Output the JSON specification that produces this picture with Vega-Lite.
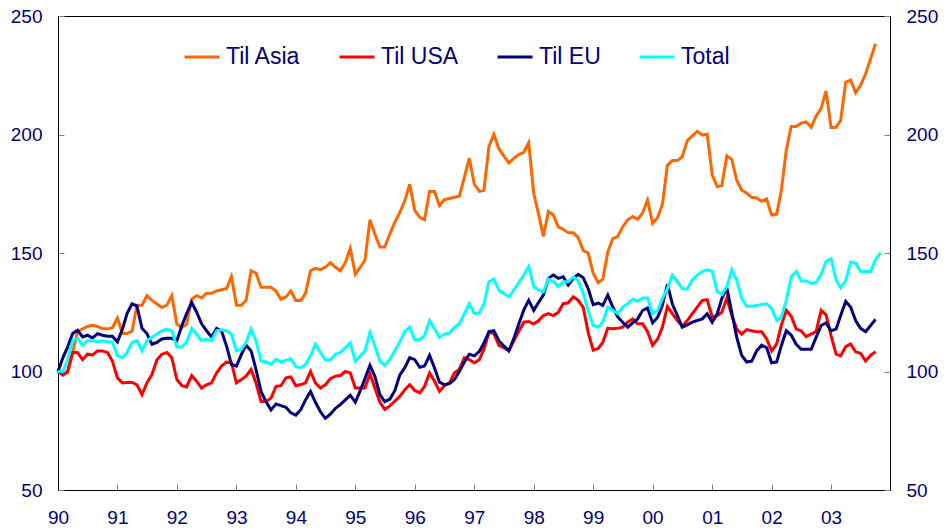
{
  "$schema": "https://vega.github.io/schema/vega-lite/v6.json",
  "width": 832,
  "height": 474,
  "autosize": {"type": "none"},
  "padding": {"left": 58, "top": 16, "right": 57, "bottom": 42},
  "background": "white",
  "config": {
    "font": "Liberation Sans",
    "view": {"stroke": "black", "strokeWidth": 1},
    "axis": {
      "grid": false,
      "title": null,
      "domainColor": "black",
      "domainWidth": 1,
      "tickColor": "#808080",
      "tickWidth": 1,
      "tickSize": -6,
      "labelFont": "Liberation Sans",
      "labelFontSize": 19,
      "labelColor": "#000080",
      "labelOverlap": false,
      "labelFlush": false
    }
  },
  "data": {
    "values": [
      {"d": "1990-01-01", "Til Asia": 100, "Til USA": 100, "Til EU": 100, "Total": 100},
      {"d": "1990-02-01", "Til Asia": 99, "Til USA": 98.5, "Til EU": 106, "Total": 100},
      {"d": "1990-03-01", "Til Asia": 99.5, "Til USA": 100, "Til EU": 110.3, "Total": 105},
      {"d": "1990-04-01", "Til Asia": 108, "Til USA": 108, "Til EU": 116, "Total": 113},
      {"d": "1990-05-01", "Til Asia": 117, "Til USA": 108, "Til EU": 117.4, "Total": 114},
      {"d": "1990-06-01", "Til Asia": 118, "Til USA": 105, "Til EU": 114.6, "Total": 111},
      {"d": "1990-07-01", "Til Asia": 119, "Til USA": 107.3, "Til EU": 115.3, "Total": 113},
      {"d": "1990-08-01", "Til Asia": 119.5, "Til USA": 107, "Til EU": 114.2, "Total": 113},
      {"d": "1990-09-01", "Til Asia": 119, "Til USA": 108.7, "Til EU": 116, "Total": 112.5},
      {"d": "1990-10-01", "Til Asia": 118, "Til USA": 108.7, "Til EU": 115.3, "Total": 113},
      {"d": "1990-11-01", "Til Asia": 118, "Til USA": 108, "Til EU": 114.9, "Total": 112.5},
      {"d": "1990-12-01", "Til Asia": 118.5, "Til USA": 104.4, "Til EU": 114.9, "Total": 112.5},
      {"d": "1991-01-01", "Til Asia": 122.5, "Til USA": 97.3, "Til EU": 112.5, "Total": 106.6},
      {"d": "1991-02-01", "Til Asia": 116, "Til USA": 95.2, "Til EU": 117.9, "Total": 105.8},
      {"d": "1991-03-01", "Til Asia": 116, "Til USA": 95.4, "Til EU": 124.4, "Total": 108},
      {"d": "1991-04-01", "Til Asia": 117, "Til USA": 95.4, "Til EU": 128.6, "Total": 112.3},
      {"d": "1991-05-01", "Til Asia": 128, "Til USA": 94.4, "Til EU": 127.6, "Total": 113},
      {"d": "1991-06-01", "Til Asia": 128, "Til USA": 90.2, "Til EU": 118.2, "Total": 108.7},
      {"d": "1991-07-01", "Til Asia": 132, "Til USA": 95.2, "Til EU": 116, "Total": 113},
      {"d": "1991-08-01", "Til Asia": 130, "Til USA": 98.7, "Til EU": 111.5, "Total": 114.4},
      {"d": "1991-09-01", "Til Asia": 128.5, "Til USA": 105, "Til EU": 112.3, "Total": 115.8},
      {"d": "1991-10-01", "Til Asia": 127, "Til USA": 107.3, "Til EU": 113.7, "Total": 117.2},
      {"d": "1991-11-01", "Til Asia": 128, "Til USA": 108, "Til EU": 114, "Total": 117.9},
      {"d": "1991-12-01", "Til Asia": 132, "Til USA": 105.8, "Til EU": 114, "Total": 117.2},
      {"d": "1992-01-01", "Til Asia": 120, "Til USA": 96.6, "Til EU": 113, "Total": 110.3},
      {"d": "1992-02-01", "Til Asia": 118.5, "Til USA": 94, "Til EU": 119.4, "Total": 110.3},
      {"d": "1992-03-01", "Til Asia": 120, "Til USA": 93.5, "Til EU": 124.4, "Total": 112.3},
      {"d": "1992-04-01", "Til Asia": 130.5, "Til USA": 98.3, "Til EU": 129.1, "Total": 118.2},
      {"d": "1992-05-01", "Til Asia": 132, "Til USA": 95.9, "Til EU": 125.1, "Total": 115.8},
      {"d": "1992-06-01", "Til Asia": 131, "Til USA": 93, "Til EU": 120.1, "Total": 113},
      {"d": "1992-07-01", "Til Asia": 133, "Til USA": 94.4, "Til EU": 117.2, "Total": 113.7},
      {"d": "1992-08-01", "Til Asia": 133, "Til USA": 95.2, "Til EU": 114.6, "Total": 113},
      {"d": "1992-09-01", "Til Asia": 134, "Til USA": 99.4, "Til EU": 118.2, "Total": 117.2},
      {"d": "1992-10-01", "Til Asia": 134.5, "Til USA": 102.3, "Til EU": 117.2, "Total": 117.6},
      {"d": "1992-11-01", "Til Asia": 135, "Til USA": 104, "Til EU": 110.8, "Total": 117.2},
      {"d": "1992-12-01", "Til Asia": 140, "Til USA": 103.7, "Til EU": 103, "Total": 115.8},
      {"d": "1993-01-01", "Til Asia": 128, "Til USA": 95.2, "Til EU": 102.3, "Total": 108.7},
      {"d": "1993-02-01", "Til Asia": 128, "Til USA": 96.6, "Til EU": 107.3, "Total": 109.4},
      {"d": "1993-03-01", "Til Asia": 130, "Til USA": 98, "Til EU": 111.1, "Total": 112.3},
      {"d": "1993-04-01", "Til Asia": 142.5, "Til USA": 100.9, "Til EU": 108.7, "Total": 117.9},
      {"d": "1993-05-01", "Til Asia": 141.5, "Til USA": 95.2, "Til EU": 100.9, "Total": 113},
      {"d": "1993-06-01", "Til Asia": 135.5, "Til USA": 87.3, "Til EU": 91.6, "Total": 104.4},
      {"d": "1993-07-01", "Til Asia": 135.5, "Til USA": 87.3, "Til EU": 87.3, "Total": 104},
      {"d": "1993-08-01", "Til Asia": 135.5, "Til USA": 88.7, "Til EU": 83.8, "Total": 103},
      {"d": "1993-09-01", "Til Asia": 134, "Til USA": 93.7, "Til EU": 86.3, "Total": 105.1},
      {"d": "1993-10-01", "Til Asia": 130.5, "Til USA": 94, "Til EU": 85.6, "Total": 104},
      {"d": "1993-11-01", "Til Asia": 131.5, "Til USA": 97.3, "Til EU": 84.9, "Total": 104.8},
      {"d": "1993-12-01", "Til Asia": 134, "Til USA": 97.7, "Til EU": 82.6, "Total": 105.4},
      {"d": "1994-01-01", "Til Asia": 130, "Til USA": 94, "Til EU": 81.6, "Total": 102},
      {"d": "1994-02-01", "Til Asia": 130, "Til USA": 94.5, "Til EU": 84, "Total": 101.6},
      {"d": "1994-03-01", "Til Asia": 133, "Til USA": 95.2, "Til EU": 88, "Total": 103},
      {"d": "1994-04-01", "Til Asia": 142.5, "Til USA": 100, "Til EU": 91.6, "Total": 106.6},
      {"d": "1994-05-01", "Til Asia": 143.5, "Til USA": 95.2, "Til EU": 87, "Total": 111.5},
      {"d": "1994-06-01", "Til Asia": 143, "Til USA": 93, "Til EU": 83, "Total": 108},
      {"d": "1994-07-01", "Til Asia": 144, "Til USA": 94.4, "Til EU": 80.2, "Total": 104.8},
      {"d": "1994-08-01", "Til Asia": 146, "Til USA": 97, "Til EU": 82, "Total": 104.8},
      {"d": "1994-09-01", "Til Asia": 144, "Til USA": 98, "Til EU": 84.5, "Total": 107.3},
      {"d": "1994-10-01", "Til Asia": 142.5, "Til USA": 98.3, "Til EU": 86, "Total": 108},
      {"d": "1994-11-01", "Til Asia": 146, "Til USA": 100, "Til EU": 88, "Total": 110.1},
      {"d": "1994-12-01", "Til Asia": 152, "Til USA": 99.4, "Til EU": 90, "Total": 112},
      {"d": "1995-01-01", "Til Asia": 141, "Til USA": 93, "Til EU": 87, "Total": 104.4},
      {"d": "1995-02-01", "Til Asia": 144, "Til USA": 93, "Til EU": 92, "Total": 106.6},
      {"d": "1995-03-01", "Til Asia": 147, "Til USA": 93, "Til EU": 97, "Total": 108.7},
      {"d": "1995-04-01", "Til Asia": 164, "Til USA": 99, "Til EU": 102.6, "Total": 116.5},
      {"d": "1995-05-01", "Til Asia": 158, "Til USA": 93, "Til EU": 98, "Total": 110.8},
      {"d": "1995-06-01", "Til Asia": 152.5, "Til USA": 87, "Til EU": 90.2, "Total": 104.4},
      {"d": "1995-07-01", "Til Asia": 152.5, "Til USA": 84, "Til EU": 87.3, "Total": 102.6},
      {"d": "1995-08-01", "Til Asia": 158, "Til USA": 85.5, "Til EU": 88.3, "Total": 105.1},
      {"d": "1995-09-01", "Til Asia": 163, "Til USA": 87.5, "Til EU": 92, "Total": 108.7},
      {"d": "1995-10-01", "Til Asia": 167, "Til USA": 89.5, "Til EU": 98.5, "Total": 112.5},
      {"d": "1995-11-01", "Til Asia": 172, "Til USA": 92.3, "Til EU": 101.6, "Total": 116.8},
      {"d": "1995-12-01", "Til Asia": 179, "Til USA": 94.4, "Til EU": 105.8, "Total": 118.7},
      {"d": "1996-01-01", "Til Asia": 168, "Til USA": 92, "Til EU": 105, "Total": 113.4},
      {"d": "1996-02-01", "Til Asia": 165, "Til USA": 91, "Til EU": 101.8, "Total": 113.4},
      {"d": "1996-03-01", "Til Asia": 164, "Til USA": 93.7, "Til EU": 102.3, "Total": 115.1},
      {"d": "1996-04-01", "Til Asia": 176, "Til USA": 99.4, "Til EU": 106.8, "Total": 121.5},
      {"d": "1996-05-01", "Til Asia": 176, "Til USA": 96, "Til EU": 101.6, "Total": 118},
      {"d": "1996-06-01", "Til Asia": 170, "Til USA": 91.6, "Til EU": 95.5, "Total": 114.4},
      {"d": "1996-07-01", "Til Asia": 172.5, "Til USA": 94, "Til EU": 94.4, "Total": 115.8},
      {"d": "1996-08-01", "Til Asia": 173, "Til USA": 95.2, "Til EU": 94.9, "Total": 116.2},
      {"d": "1996-09-01", "Til Asia": 173.5, "Til USA": 99.4, "Til EU": 96.6, "Total": 118.7},
      {"d": "1996-10-01", "Til Asia": 174, "Til USA": 101, "Til EU": 100, "Total": 120.1},
      {"d": "1996-11-01", "Til Asia": 182, "Til USA": 105.8, "Til EU": 104, "Total": 124.4},
      {"d": "1996-12-01", "Til Asia": 190, "Til USA": 105, "Til EU": 107.3, "Total": 128.6},
      {"d": "1997-01-01", "Til Asia": 179, "Til USA": 103.7, "Til EU": 106.6, "Total": 124.4},
      {"d": "1997-02-01", "Til Asia": 176, "Til USA": 105, "Til EU": 108.5, "Total": 124.8},
      {"d": "1997-03-01", "Til Asia": 176.5, "Til USA": 109.4, "Til EU": 112, "Total": 128.6},
      {"d": "1997-04-01", "Til Asia": 195, "Til USA": 116.5, "Til EU": 116.8, "Total": 137.9},
      {"d": "1997-05-01", "Til Asia": 200, "Til USA": 116, "Til EU": 117.2, "Total": 139},
      {"d": "1997-06-01", "Til Asia": 194, "Til USA": 111, "Til EU": 113, "Total": 134.3},
      {"d": "1997-07-01", "Til Asia": 191, "Til USA": 110, "Til EU": 110.8, "Total": 132.9},
      {"d": "1997-08-01", "Til Asia": 188, "Til USA": 108.7, "Til EU": 108.7, "Total": 131.5},
      {"d": "1997-09-01", "Til Asia": 190, "Til USA": 112.9, "Til EU": 114, "Total": 134.3},
      {"d": "1997-10-01", "Til Asia": 191.5, "Til USA": 117, "Til EU": 120, "Total": 137.5},
      {"d": "1997-11-01", "Til Asia": 192.5, "Til USA": 120.8, "Til EU": 126, "Total": 140.7},
      {"d": "1997-12-01", "Til Asia": 196.5, "Til USA": 121.1, "Til EU": 130, "Total": 144.3},
      {"d": "1998-01-01", "Til Asia": 175, "Til USA": 120, "Til EU": 125.8, "Total": 135.8},
      {"d": "1998-02-01", "Til Asia": 166, "Til USA": 121.5, "Til EU": 129.3, "Total": 134.3},
      {"d": "1998-03-01", "Til Asia": 157, "Til USA": 123.6, "Til EU": 132.2, "Total": 133.6},
      {"d": "1998-04-01", "Til Asia": 167.5, "Til USA": 124.4, "Til EU": 139.3, "Total": 139},
      {"d": "1998-05-01", "Til Asia": 166, "Til USA": 123.6, "Til EU": 140.7, "Total": 137.9},
      {"d": "1998-06-01", "Til Asia": 161, "Til USA": 125, "Til EU": 139.3, "Total": 135.8},
      {"d": "1998-07-01", "Til Asia": 160, "Til USA": 128.6, "Til EU": 140, "Total": 137.9},
      {"d": "1998-08-01", "Til Asia": 158.5, "Til USA": 129, "Til EU": 136.5, "Total": 137.9},
      {"d": "1998-09-01", "Til Asia": 158.5, "Til USA": 131.5, "Til EU": 139.3, "Total": 140},
      {"d": "1998-10-01", "Til Asia": 156.5, "Til USA": 130, "Til EU": 141, "Total": 138.2},
      {"d": "1998-11-01", "Til Asia": 151, "Til USA": 127, "Til EU": 139.6, "Total": 132.9},
      {"d": "1998-12-01", "Til Asia": 150, "Til USA": 116.5, "Til EU": 135, "Total": 125.8},
      {"d": "1999-01-01", "Til Asia": 141.5, "Til USA": 109, "Til EU": 128.2, "Total": 119.4},
      {"d": "1999-02-01", "Til Asia": 137.5, "Til USA": 109.7, "Til EU": 128.9, "Total": 118.7},
      {"d": "1999-03-01", "Til Asia": 139, "Til USA": 112.3, "Til EU": 127.9, "Total": 120.8},
      {"d": "1999-04-01", "Til Asia": 150.5, "Til USA": 118.3, "Til EU": 132.2, "Total": 127.2},
      {"d": "1999-05-01", "Til Asia": 156, "Til USA": 118, "Til EU": 127.2, "Total": 125.8},
      {"d": "1999-06-01", "Til Asia": 157, "Til USA": 118.2, "Til EU": 123, "Total": 124.4},
      {"d": "1999-07-01", "Til Asia": 161, "Til USA": 118.7, "Til EU": 120.8, "Total": 127.2},
      {"d": "1999-08-01", "Til Asia": 164, "Til USA": 120.8, "Til EU": 118.7, "Total": 128.6},
      {"d": "1999-09-01", "Til Asia": 165.4, "Til USA": 122.2, "Til EU": 120.5, "Total": 130.5},
      {"d": "1999-10-01", "Til Asia": 164.2, "Til USA": 120.1, "Til EU": 122.2, "Total": 129.6},
      {"d": "1999-11-01", "Til Asia": 167, "Til USA": 120.1, "Til EU": 125.8, "Total": 131},
      {"d": "1999-12-01", "Til Asia": 172.4, "Til USA": 116.8, "Til EU": 126.8, "Total": 131},
      {"d": "2000-01-01", "Til Asia": 162.5, "Til USA": 111.1, "Til EU": 120.5, "Total": 124.4},
      {"d": "2000-02-01", "Til Asia": 165, "Til USA": 113.7, "Til EU": 122.9, "Total": 125.8},
      {"d": "2000-03-01", "Til Asia": 170.6, "Til USA": 118.7, "Til EU": 127.9, "Total": 130.8},
      {"d": "2000-04-01", "Til Asia": 187, "Til USA": 127.5, "Til EU": 136.8, "Total": 135},
      {"d": "2000-05-01", "Til Asia": 189, "Til USA": 124.4, "Til EU": 128.6, "Total": 140.7},
      {"d": "2000-06-01", "Til Asia": 189, "Til USA": 121.5, "Til EU": 123.6, "Total": 137.9},
      {"d": "2000-07-01", "Til Asia": 190.6, "Til USA": 119.1, "Til EU": 118.7, "Total": 135},
      {"d": "2000-08-01", "Til Asia": 197.4, "Til USA": 121.5, "Til EU": 119.7, "Total": 134.8},
      {"d": "2000-09-01", "Til Asia": 199.4, "Til USA": 124.4, "Til EU": 120.8, "Total": 138.6},
      {"d": "2000-10-01", "Til Asia": 201.3, "Til USA": 127.2, "Til EU": 121.5, "Total": 140.7},
      {"d": "2000-11-01", "Til Asia": 199.8, "Til USA": 130, "Til EU": 122.2, "Total": 142.2},
      {"d": "2000-12-01", "Til Asia": 200.1, "Til USA": 130.3, "Til EU": 124.4, "Total": 142.9},
      {"d": "2001-01-01", "Til Asia": 183, "Til USA": 122.9, "Til EU": 120.8, "Total": 142.2},
      {"d": "2001-02-01", "Til Asia": 178, "Til USA": 123.6, "Til EU": 124.4, "Total": 133.6},
      {"d": "2001-03-01", "Til Asia": 178.5, "Til USA": 125, "Til EU": 130.8, "Total": 132.5},
      {"d": "2001-04-01", "Til Asia": 191, "Til USA": 131, "Til EU": 135.3, "Total": 135.8},
      {"d": "2001-05-01", "Til Asia": 189.5, "Til USA": 123.6, "Til EU": 125, "Total": 142.9},
      {"d": "2001-06-01", "Til Asia": 180.6, "Til USA": 117.9, "Til EU": 114.4, "Total": 138.6},
      {"d": "2001-07-01", "Til Asia": 176.6, "Til USA": 115.8, "Til EU": 106.8, "Total": 130.8},
      {"d": "2001-08-01", "Til Asia": 175.2, "Til USA": 117.7, "Til EU": 104, "Total": 127.5},
      {"d": "2001-09-01", "Til Asia": 173.5, "Til USA": 117.2, "Til EU": 104.4, "Total": 127.5},
      {"d": "2001-10-01", "Til Asia": 173.2, "Til USA": 116.8, "Til EU": 108.7, "Total": 127.9},
      {"d": "2001-11-01", "Til Asia": 171.8, "Til USA": 116.8, "Til EU": 111.1, "Total": 128.3},
      {"d": "2001-12-01", "Til Asia": 172.8, "Til USA": 113.7, "Til EU": 110.1, "Total": 128.6},
      {"d": "2002-01-01", "Til Asia": 166, "Til USA": 108.7, "Til EU": 103.7, "Total": 126.5},
      {"d": "2002-02-01", "Til Asia": 166.4, "Til USA": 111.6, "Til EU": 104, "Total": 121.5},
      {"d": "2002-03-01", "Til Asia": 176, "Til USA": 119.4, "Til EU": 110.8, "Total": 122.9},
      {"d": "2002-04-01", "Til Asia": 193.4, "Til USA": 125.8, "Til EU": 117.2, "Total": 130},
      {"d": "2002-05-01", "Til Asia": 203.4, "Til USA": 123.3, "Til EU": 115.4, "Total": 140},
      {"d": "2002-06-01", "Til Asia": 203.4, "Til USA": 117.9, "Til EU": 111.5, "Total": 142.2},
      {"d": "2002-07-01", "Til Asia": 204.8, "Til USA": 117.2, "Til EU": 109.4, "Total": 138.2},
      {"d": "2002-08-01", "Til Asia": 205.3, "Til USA": 114.7, "Til EU": 109.4, "Total": 138.2},
      {"d": "2002-09-01", "Til Asia": 203, "Til USA": 115.8, "Til EU": 109.4, "Total": 137.2},
      {"d": "2002-10-01", "Til Asia": 207.7, "Til USA": 116.8, "Til EU": 114.4, "Total": 137.6},
      {"d": "2002-11-01", "Til Asia": 211, "Til USA": 125.8, "Til EU": 119.4, "Total": 141},
      {"d": "2002-12-01", "Til Asia": 218.4, "Til USA": 123.9, "Til EU": 120.5, "Total": 146.4},
      {"d": "2003-01-01", "Til Asia": 203, "Til USA": 115.1, "Til EU": 117.2, "Total": 147.6},
      {"d": "2003-02-01", "Til Asia": 203, "Til USA": 107.3, "Til EU": 117.9, "Total": 138.6},
      {"d": "2003-03-01", "Til Asia": 206, "Til USA": 106.6, "Til EU": 123.6, "Total": 135.3},
      {"d": "2003-04-01", "Til Asia": 222, "Til USA": 110.5, "Til EU": 129.6, "Total": 138.2},
      {"d": "2003-05-01", "Til Asia": 223, "Til USA": 111.6, "Til EU": 127.2, "Total": 146.2},
      {"d": "2003-06-01", "Til Asia": 217.6, "Til USA": 108.3, "Til EU": 121.5, "Total": 145.7},
      {"d": "2003-07-01", "Til Asia": 220.8, "Til USA": 107.7, "Til EU": 118.2, "Total": 142.2},
      {"d": "2003-08-01", "Til Asia": 225.5, "Til USA": 104.4, "Til EU": 116.8, "Total": 142.2},
      {"d": "2003-09-01", "Til Asia": 232, "Til USA": 106.8, "Til EU": 119.4, "Total": 142.2},
      {"d": "2003-10-01", "Til Asia": 238.3, "Til USA": 108.3, "Til EU": 122, "Total": 147.2},
      {"d": "2003-11-01", "Total": 150}
    ]
  },
  "transform": [
    {"fold": ["Til Asia", "Til USA", "Til EU", "Total"], "as": ["series", "value"]},
    {"filter": "isValid(datum.value)"}
  ],
  "encoding": {
    "x": {
      "field": "d",
      "type": "temporal",
      "scale": {
        "type": "utc",
        "domain": [
          {"year": 1990, "month": 1, "date": 1, "utc": true},
          {"year": 2003, "month": 12, "date": 29, "utc": true}
        ]
      },
      "axis": {
        "labelExpr": "utcFormat(datum.value, '%y')",
        "tickCount": {"interval": "year", "step": 1},
        "labelPadding": 24
      }
    },
    "y": {
      "field": "value",
      "type": "quantitative",
      "scale": {"domain": [50, 250], "nice": false, "zero": false},
      "axis": {"values": [50, 100, 150, 200, 250], "labelPadding": 22}
    }
  },
  "layer": [
    {
      "mark": {"type": "line", "strokeWidth": 3},
      "encoding": {
        "color": {
          "field": "series",
          "type": "nominal",
          "scale": {
            "domain": ["Til Asia", "Til USA", "Til EU", "Total"],
            "range": ["#FF6600", "#FF0000", "#000080", "#00FFFF"]
          },
          "legend": {
            "orient": "none",
            "legendX": 125,
            "legendY": 22,
            "direction": "horizontal",
            "columns": 4,
            "gridAlign": "none",
            "title": null,
            "padding": 0,
            "symbolType": "stroke",
            "symbolSize": 1225,
            "symbolStrokeWidth": 3,
            "labelFont": "Liberation Sans",
            "labelFontSize": 23,
            "labelColor": "#000080",
            "labelOffset": 5,
            "columnPadding": 32
          }
        }
      }
    },
    {
      "mark": {"type": "line", "opacity": 0},
      "encoding": {
        "detail": {"field": "series"},
        "y": {
          "field": "value",
          "type": "quantitative",
          "scale": {"domain": [50, 250], "nice": false, "zero": false},
          "axis": {"orient": "right", "values": [50, 100, 150, 200, 250], "labelPadding": 22}
        }
      }
    }
  ],
  "resolve": {"axis": {"y": "independent"}}
}
